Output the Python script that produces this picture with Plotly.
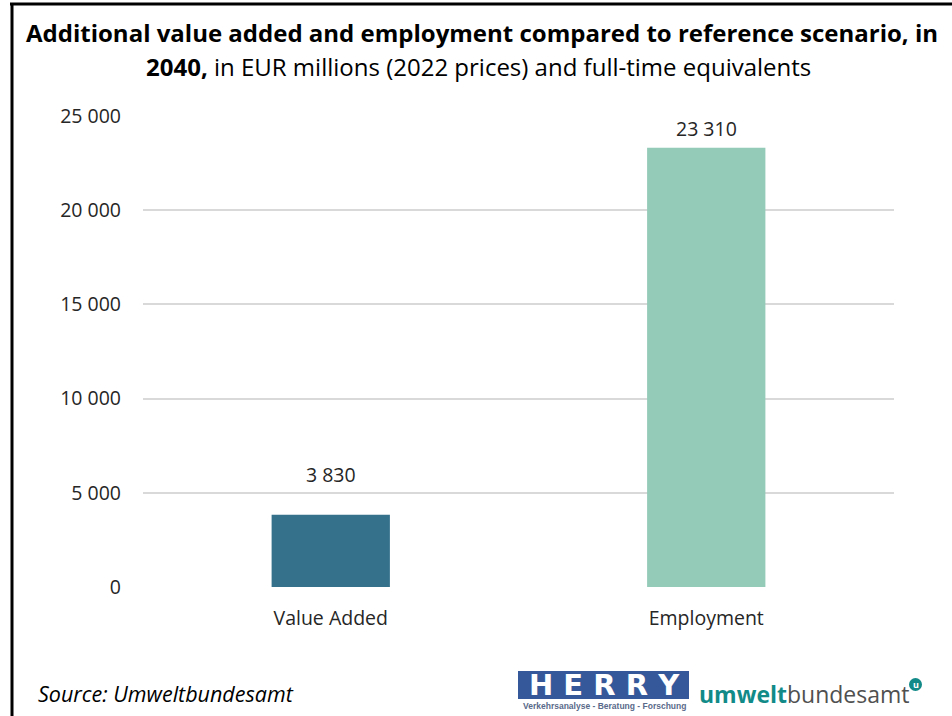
import plotly.graph_objects as go

# Data
categories = ["Value Added", "Employment"]
values = [3830, 23310]
bar_colors = ["#35718B", "#93CAB8"]
y_ticks = [0, 5000, 10000, 15000, 20000, 25000]

FONT = "Open Sans"
TEXT = "#262626"

W, H = 952, 716
ML, MR, MT, MB = 143, 58, 116, 129
PW, PH = W - ML - MR, H - MT - MB


def px_x(x):
    return (x - ML) / PW


def px_y(y):
    return (H - MB - y) / PH


fig = go.Figure()
fig.add_trace(go.Bar(
    x=categories,
    y=values,
    marker=dict(color=bar_colors, line=dict(width=0)),
    width=0.315,
    hoverinfo="skip",
))

# Value labels above the bars
label_shift = [40, 19]
for cat, val, dy in zip(categories, values, label_shift):
    fig.add_annotation(
        x=cat, y=val, xref="x", yref="y",
        text=f"{val:,}".replace(",", " "),
        showarrow=False, yanchor="middle", yshift=dy,
        font=dict(family=FONT, size=19.5, color=TEXT),
    )

# Two-line title
title_lines = [
    "<b>Additional value added and employment compared to reference scenario, in</b>",
    "<b>2040,</b> in EUR millions (2022 prices) and full-time equivalents",
]
fig.add_annotation(x=px_x(482), y=px_y(32), xref="paper", yref="paper",
                   text=title_lines[0], showarrow=False,
                   xanchor="center", yanchor="middle",
                   font=dict(family=FONT, size=24, color="#000000"))
fig.add_annotation(x=px_x(478), y=px_y(66), xref="paper", yref="paper",
                   text=title_lines[1], showarrow=False,
                   xanchor="center", yanchor="middle",
                   font=dict(family=FONT, size=24, color="#000000"))

# Source note
fig.add_annotation(x=px_x(36), y=px_y(693), xref="paper", yref="paper",
                   text="<i>Source: Umweltbundesamt</i>", showarrow=False,
                   xanchor="left", yanchor="middle",
                   font=dict(family=FONT, size=21.5, color="#000000"))

# Frame lines (top and left)
fig.add_shape(type="line", xref="paper", yref="paper",
              x0=px_x(10), x1=px_x(W), y0=px_y(4), y1=px_y(4),
              line=dict(color="#000000", width=3))
fig.add_shape(type="line", xref="paper", yref="paper",
              x0=px_x(12), x1=px_x(12), y0=px_y(3), y1=px_y(H),
              line=dict(color="#000000", width=3))

# HERRY logo
fig.add_shape(type="rect", xref="paper", yref="paper",
              x0=px_x(518), x1=px_x(689), y0=px_y(671), y1=px_y(699),
              fillcolor="#35589A", line=dict(width=0), layer="above")
fig.add_annotation(x=px_x(604), y=px_y(685), xref="paper", yref="paper",
                   text="<b>H E R R Y</b>", showarrow=False,
                   xanchor="center", yanchor="middle",
                   font=dict(family="DejaVu Sans", size=29, color="#FFFFFF"))
fig.add_annotation(x=px_x(604), y=px_y(706), xref="paper", yref="paper",
                   text="<b>Verkehrsanalyse - Beratung - Forschung</b>", showarrow=False,
                   xanchor="center", yanchor="middle",
                   font=dict(family="Liberation Sans", size=8.5, color="#5A6A8A"))

# umweltbundesamt wordmark
fig.add_annotation(x=px_x(697), y=px_y(694), xref="paper", yref="paper",
                   text="<span style='color:#118A88'><b>umwelt</b></span>"
                        "<span style='color:#505050'>bundesamt</span>",
                   showarrow=False, xanchor="left", yanchor="middle",
                   font=dict(family="Open Sans", size=23))
fig.add_shape(type="circle", xref="paper", yref="paper",
              x0=px_x(909), x1=px_x(922), y0=px_y(678), y1=px_y(691),
              fillcolor="#118A88", line=dict(width=0))
fig.add_annotation(x=px_x(915.5), y=px_y(684.5), xref="paper", yref="paper",
                   text="<b>u</b>", showarrow=False,
                   xanchor="center", yanchor="middle",
                   font=dict(family="Open Sans", size=9, color="#FFFFFF"))

fig.update_layout(
    width=W, height=H,
    margin=dict(l=ML, r=MR, t=MT, b=MB, pad=0),
    paper_bgcolor="#FFFFFF",
    plot_bgcolor="#FFFFFF",
    showlegend=False,
    separators=". ",
    font=dict(family=FONT, size=19, color=TEXT),
    xaxis=dict(
        showgrid=False, showline=False, zeroline=False,
        ticks="", tickfont=dict(family=FONT, size=19.5, color=TEXT),
        ticklabelstandoff=17,
    ),
    yaxis=dict(
        range=[0, 25000],
        tickvals=y_ticks,
        tickformat=",d",
        showgrid=True, gridcolor="#D9D9D9", gridwidth=1.5,
        zeroline=False, showline=False, ticks="",
        tickfont=dict(family=FONT, size=19.5, color=TEXT),
        ticklabelstandoff=21,
    ),
)

fig.write_html("out.html")
